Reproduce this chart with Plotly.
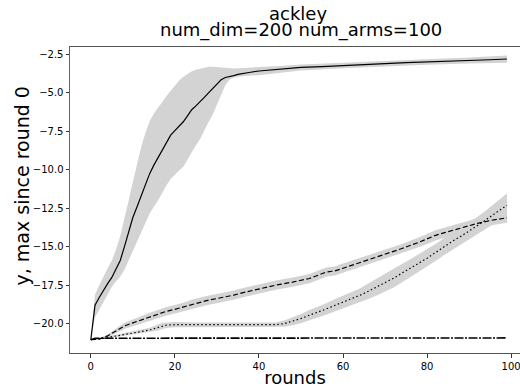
import plotly.graph_objects as go

# ---- solid series (mean, upper, lower) ----
solid_x = [0, 1, 2, 3, 4, 5, 6, 7, 8, 9, 10, 11, 12, 13, 14, 15, 16, 17, 18, 19, 20,
           21, 22, 23, 24, 25, 26, 27, 28, 29, 30, 31, 32, 33, 34, 35, 36, 38, 40,
           45, 50, 55, 60, 65, 70, 75, 80, 85, 90, 95, 99]
solid_y = [-21.05, -18.8, -18.3, -17.8, -17.4, -17.0, -16.5, -15.9, -15.0, -14.1, -13.1,
           -12.4, -11.7, -10.9, -10.25, -9.7, -9.2, -8.7, -8.2, -7.75, -7.45,
           -7.15, -6.88, -6.5, -6.1, -5.85, -5.6, -5.3, -5.0, -4.7, -4.4, -4.15, -4.0,
           -3.95, -3.88, -3.8, -3.74, -3.66, -3.58,
           -3.45, -3.35, -3.3, -3.22, -3.16, -3.1, -3.04, -3.0, -2.95, -2.9, -2.85, -2.8]

solid_band_x = [0, 1, 2, 3, 4, 5, 6, 7, 8, 9, 10, 11, 12, 13, 14, 15, 16, 17, 18, 19, 20,
                21, 22, 23, 24, 25, 26, 27, 28, 29, 30, 31, 32, 33, 34, 35, 36, 40,
                45, 50, 60, 70, 80, 90, 99]
solid_upper = [-21.05, -18.1, -17.5, -16.9, -16.4, -15.9, -15.2, -14.3, -13.2, -12.0, -10.8,
               -9.6, -8.5, -7.6, -6.85, -6.35, -6.0, -5.6, -5.2, -4.85, -4.5,
               -4.2, -3.95, -3.75, -3.6, -3.5, -3.42, -3.35, -3.3, -3.3, -3.32, -3.36, -3.4,
               -3.42, -3.42, -3.4, -3.38, -3.32,
               -3.25, -3.15, -3.05, -2.95, -2.82, -2.7, -2.58]
solid_lower = [-21.05, -19.6, -19.1, -18.6, -18.1, -17.6, -17.25, -16.95, -16.5, -15.9, -15.2,
               -14.6, -14.0, -13.4, -12.85, -12.4, -12.0, -11.5, -11.0, -10.6, -10.3,
               -10.05, -9.8, -9.3, -8.8, -8.4, -8.0, -7.4, -6.9, -6.4, -5.8, -5.1, -4.5,
               -4.15, -4.0, -3.95, -3.92, -3.85,
               -3.68, -3.55, -3.4, -3.28, -3.18, -3.1, -3.05]

# ---- dashed series ----
dash_x = [0, 2, 4, 6, 8, 10, 12, 14, 16, 18, 20, 22, 24, 26, 28, 30, 32, 34, 36, 38, 40,
          44, 48, 52, 56, 58, 60, 62, 65, 68, 71, 74, 78, 80, 82, 84, 87, 90, 92, 95, 97, 99]
dash_y = [-21.05, -21.0, -20.8, -20.45, -20.15, -19.95, -19.75, -19.55, -19.38, -19.2, -19.07,
          -18.93, -18.75, -18.6, -18.47, -18.37, -18.28, -18.15, -18.0, -17.88, -17.72,
          -17.5, -17.3, -17.07, -16.65, -16.58, -16.4, -16.22, -15.95, -15.67, -15.4, -15.12,
          -14.72, -14.5, -14.26, -14.1, -13.86, -13.63, -13.48, -13.3, -13.2, -13.12]
dash_spread = [0.0, 0.05, 0.1, 0.15, 0.2, 0.22, 0.25, 0.25, 0.27, 0.28, 0.28,
               0.28, 0.3, 0.3, 0.3, 0.3, 0.3, 0.3, 0.3, 0.3, 0.3,
               0.3, 0.3, 0.3, 0.3, 0.3, 0.3, 0.3, 0.3, 0.3, 0.3, 0.3,
               0.32, 0.32, 0.33, 0.33, 0.33, 0.33, 0.33, 0.33, 0.33, 0.33]

# ---- dotted series ----
dot_x = [0, 2, 4, 6, 8, 10, 12, 14, 16, 17, 18, 20, 25, 30, 35, 40, 44, 46, 48, 50, 52, 54,
         56, 58, 60, 62, 64, 66, 68, 70, 72, 74, 76, 78, 80, 82, 84, 86, 88, 90, 92, 94,
         96, 98, 99]
dot_y = [-21.05, -21.0, -20.9, -20.8, -20.7, -20.6, -20.52, -20.42, -20.25, -20.15, -20.1,
         -20.07, -20.07, -20.07, -20.07, -20.07, -20.07, -20.0, -19.85, -19.67, -19.45, -19.27,
         -19.05, -18.82, -18.6, -18.4, -18.16, -17.9, -17.62, -17.33, -17.05, -16.72, -16.4,
         -16.05, -15.75, -15.38, -15.0, -14.65, -14.33, -14.0, -13.62, -13.25,
         -12.85, -12.45, -12.3]
dot_spread = [0.0, 0.03, 0.05, 0.07, 0.08, 0.1, 0.12, 0.15, 0.2, 0.2, 0.18,
              0.17, 0.15, 0.15, 0.15, 0.15, 0.15, 0.2, 0.25, 0.3, 0.33, 0.36,
              0.38, 0.4, 0.42, 0.44, 0.45, 0.5, 0.55, 0.58, 0.6, 0.6, 0.58,
              0.56, 0.55, 0.55, 0.55, 0.55, 0.55, 0.55, 0.57, 0.6,
              0.65, 0.72, 0.75]

# ---- flat dash-dot series ----
flat_x = [0, 1, 99]
flat_y = [-21.05, -20.95, -20.93]

x_ticks = [0, 20, 40, 60, 80, 100]
y_ticks = [-2.5, -5.0, -7.5, -10.0, -12.5, -15.0, -17.5, -20.0]

title_lines = ["ackley", "num_dim=200 num_arms=100"]
y_label = "y, max since round 0"
x_label = "rounds"

BAND = "#d3d3d3"
fig = go.Figure()


def band(xs, lo, hi):
    fig.add_trace(go.Scatter(x=xs, y=lo, mode="lines", line=dict(width=0),
                             hoverinfo="skip", showlegend=False))
    fig.add_trace(go.Scatter(x=xs, y=hi, mode="lines", line=dict(width=0),
                             fill="tonexty", fillcolor=BAND, hoverinfo="skip",
                             showlegend=False))


band(solid_band_x, solid_lower, solid_upper)
band(dash_x, [m - s for m, s in zip(dash_y, dash_spread)],
     [m + s for m, s in zip(dash_y, dash_spread)])
band(dot_x, [m - s for m, s in zip(dot_y, dot_spread)],
     [m + s for m, s in zip(dot_y, dot_spread)])

fig.add_trace(go.Scatter(x=flat_x, y=flat_y, mode="lines",
                         line=dict(color="black", width=1.6, dash="9px,1.5px,2px,1.5px"),
                         showlegend=False))
fig.add_trace(go.Scatter(x=dot_x, y=dot_y, mode="lines",
                         line=dict(color="black", width=1.2, dash="1.5px,2.5px"),
                         showlegend=False))
fig.add_trace(go.Scatter(x=dash_x, y=dash_y, mode="lines",
                         line=dict(color="black", width=1.2, dash="5px,2.5px"),
                         showlegend=False))
fig.add_trace(go.Scatter(x=solid_x, y=solid_y, mode="lines",
                         line=dict(color="black", width=1.2), showlegend=False))

FONT = "DejaVu Sans"
W, H = 520, 388
L, R, T, B = 70, 0, 47, 35
PW, PH = W - L - R, H - T - B
fig.update_layout(
    width=W, height=H,
    margin=dict(l=L, r=R, t=T, b=B, autoexpand=False),
    paper_bgcolor="white", plot_bgcolor="white",
    font=dict(family=FONT, color="black"),
)
# two title lines placed individually (tight line pitch like the reference)
fig.add_annotation(text=title_lines[0], xref="paper", yref="paper",
                   x=(298 - L) / PW, y=1 + (T - 14) / PH,
                   xanchor="center", yanchor="middle", showarrow=False,
                   font=dict(family=FONT, size=18, color="black"))
fig.add_annotation(text=title_lines[1], xref="paper", yref="paper",
                   x=(301 - L) / PW, y=1 + (T - 30) / PH,
                   xanchor="center", yanchor="middle", showarrow=False,
                   font=dict(family=FONT, size=18, color="black"))
# y-axis label
fig.add_annotation(text=y_label, xref="paper", yref="paper",
                   x=(21.5 - L) / PW, y=(H - B - 186) / PH, textangle=-90,
                   xanchor="center", yanchor="middle", showarrow=False,
                   font=dict(family=FONT, size=19, color="black"))

fig.update_xaxes(
    range=[-4.95, 102.1], tickvals=x_ticks, ticktext=[str(v) for v in x_ticks],
    showgrid=False, zeroline=False, showline=True, linecolor="#555", linewidth=1,
    mirror=True, ticks="outside", ticklen=3.5, tickcolor="#333", automargin=False,
    ticklabeloverflow="allow",
    tickfont=dict(family=FONT, size=10, color="black"),
    title=dict(text=x_label, font=dict(family=FONT, size=18, color="black"), standoff=2),
)
fig.update_yaxes(
    range=[-21.91, -2.02], tickvals=y_ticks, ticktext=[f"\u2212{abs(v):.1f}" for v in y_ticks],
    showgrid=False, zeroline=False, showline=True, linecolor="#666", linewidth=1,
    ticks="outside", ticklen=3.5, tickcolor="#333", automargin=False,
    tickfont=dict(family=FONT, size=10, color="black"),
)

fig.write_html("out.html", config={"displayModeBar": False},
               post_script="document.body.style.margin='0';document.body.style.overflow='hidden';")
